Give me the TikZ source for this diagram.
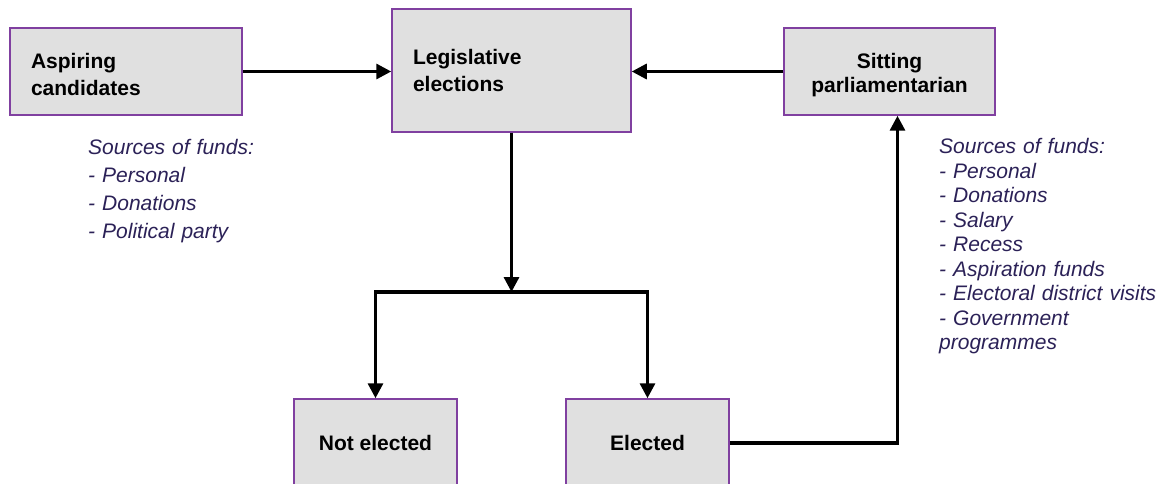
\documentclass[tikz,border=0pt]{standalone}
\usepackage{fontspec}
\setmainfont{Liberation Sans}
\usetikzlibrary{arrows.meta}
\definecolor{boxline}{RGB}{128,64,160}
\definecolor{boxfill}{RGB}{224,224,224}
\definecolor{notetext}{RGB}{43,33,87}

\begin{document}
\begin{tikzpicture}[x=1pt, y=-1pt,
		box/.style={draw=boxline, fill=boxfill, line width=1.5pt, inner ysep=0pt,
			font=\bfseries\fontsize{21}{27}\selectfont},
		note/.style={text=notetext, text width=225pt, align=left, anchor=base west,
			inner sep=0pt},
		flow/.style={line width=3.2pt, -{Triangle[length=15pt,width=15pt]}}]
	\clip (0,0) rectangle (1160,484);
	% boxes
	\node[box, minimum width=232pt, minimum height=87pt, inner xsep=21pt,
		text width=190pt, align=left, text height=22pt] (asp) at (126,71.5) {Aspiring\\candidates};
	\node[box, minimum width=239pt, minimum height=123pt, inner xsep=21pt,
		text width=197pt, align=left] (leg) at (511.5,70.5) {Legislative\\elections};
	\node[box, minimum width=211pt, minimum height=87pt, inner xsep=10pt,
		text width=191pt, align=center, text height=23pt,
		font=\bfseries\fontsize{21}{24}\selectfont] (sit) at (889.5,71.5) {Sitting\\parliamentarian};
	\node[box, minimum width=163pt, minimum height=88pt] (notel) at (375.5,443) {Not elected};
	\node[box, minimum width=163pt, minimum height=88pt] (elect) at (647.5,443) {Elected};
	% sources of funds
	\node[note, font=\itshape\fontsize{21}{28}\selectfont] (asp-funds) at (88,155)
		{Sources of funds:\\- Personal\\- Donations\\- Political party};
	\node[note, font=\itshape\fontsize{21}{24.5}\selectfont] (sit-funds) at (939,154)
		{Sources of funds:\\- Personal\\- Donations\\- Salary\\- Recess\\- Aspiration funds\\
		- Electoral district visits\\- Government\\programmes};
	% connectors
	\coordinate (split) at (leg.south |- 0,292);
	\draw[flow] (asp.east) -- (asp.east -| leg.west);
	\draw[flow] (sit.west) -- (sit.west -| leg.east);
	\draw[flow] (leg.south) -- (split);
	\foreach \n in {notel,elect}
		\draw[flow] (split) -| (\n.north);
	\draw[flow] (elect.east) -| ([xshift=8pt]sit.south);
\end{tikzpicture}
\end{document}
